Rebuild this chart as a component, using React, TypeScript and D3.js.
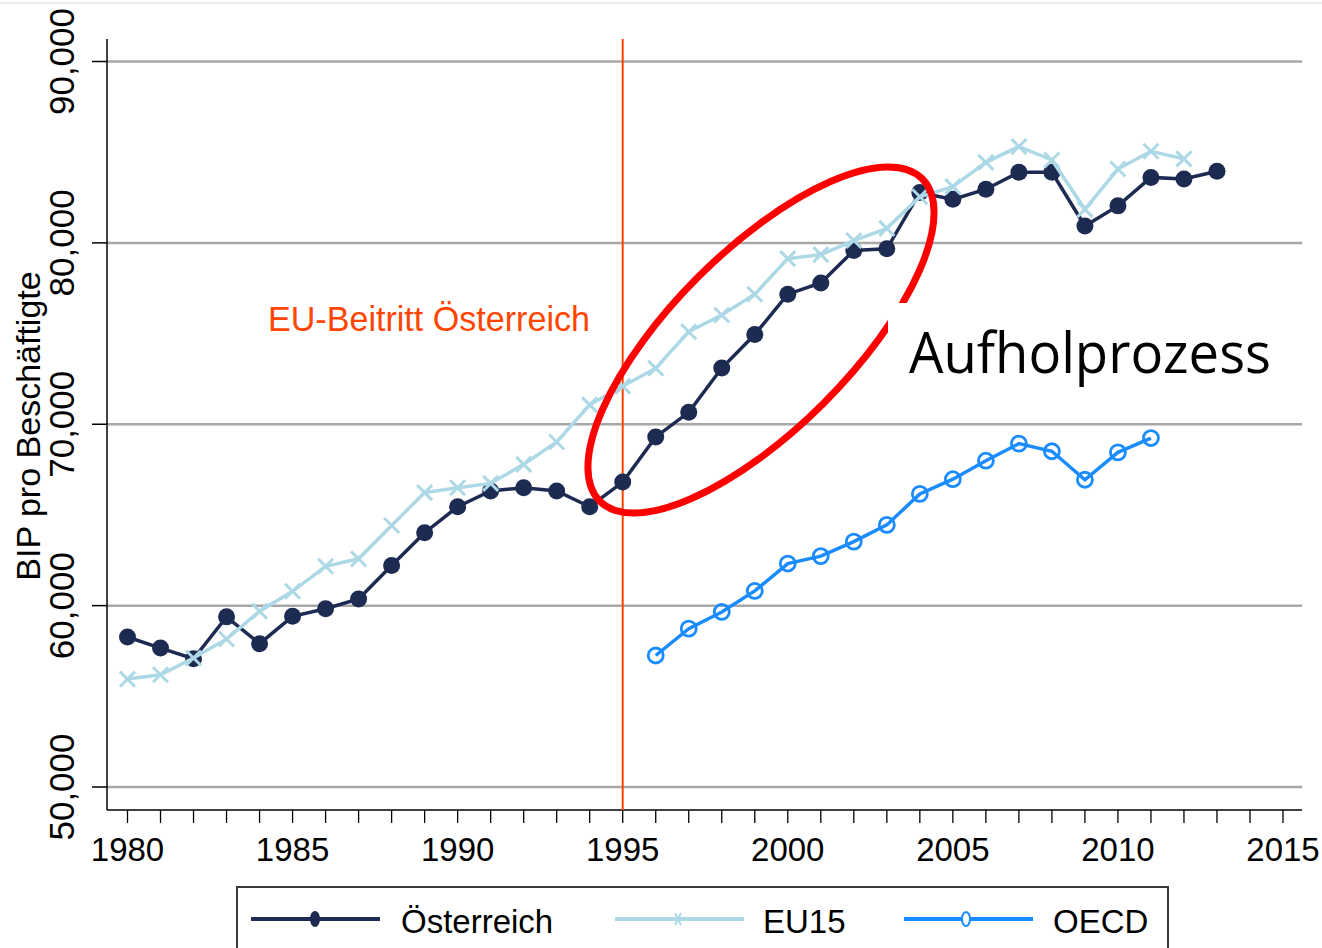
import React from "react";
import * as d3 from "d3";

// BIP pro Beschäftigte
const oesterreichYears = d3.range(1980, 2014);
const oesterreich = [
  58270, 57660, 57070, 59380, 57900, 59410, 59830, 60370, 62210, 64020,
  65450, 66320, 66500, 66320, 65450, 66810, 69300, 70660, 73100, 74950,
  77170, 77790, 79580, 79670, 82780, 82400, 82960, 83890, 83890, 80930,
  82040, 83610, 83520, 83950,
];
const eu15Years = d3.range(1980, 2013);
const eu15 = [
  55950, 56190, 57110, 58160, 59690, 60790, 62170, 62580, 64420, 66230,
  66500, 66740, 67790, 69020, 71070, 72100, 73090, 75100, 76020, 77170,
  79130, 79350, 80130, 80800, 82540, 83100, 84440, 85310, 84570, 81850,
  84070, 85050, 84630,
];
const oecdYears = d3.range(1996, 2012);
const oecd = [
  57250, 58730, 59650, 60810, 62320, 62730, 63530, 64450, 66160, 66970,
  67990, 68930, 68510, 66940, 68450, 69240,
];
const yTicks = [50000, 60000, 70000, 80000, 90000];
const xTicks = [1980, 1985, 1990, 1995, 2000, 2005, 2010, 2015];
const minorTicks = d3.range(1980, 2016);
const euEntry = 1995;

const navy = "#1d2b52";
const light = "#add8e6";
const oecdBlue = "#1a8cff";
const orange = "#ff4500";
const grid = "#a8a8a8";
const font = "'Liberation Sans', Arial, sans-serif";

const x = d3.scaleLinear().domain([1980, 2015]).range([127.5, 1283]);
const y = d3.scaleLinear().domain([50000, 90000]).range([787, 61.5]);

const toPts = (yrs: number[], vals: number[]) =>
  yrs.map((yr, i) => [x(yr), y(vals[i])] as [number, number]);

const line = d3.line<[number, number]>();

const Cross = ({ cx, cy, s = 7.5 }: { cx: number; cy: number; s?: number }) => (
  <path
    d={`M${cx - s},${cy - s}L${cx + s},${cy + s}M${cx - s},${cy + s}L${cx + s},${cy - s}`}
    stroke={light}
    strokeWidth={3}
  />
);

export default function App() {
  const pA = toPts(oesterreichYears, oesterreich);
  const pE = toPts(eu15Years, eu15);
  const pO = toPts(oecdYears, oecd);
  const left = 107;
  const right = 1302;
  const bottom = 810;
  const top = 39;

  return (
    <svg
      width={1322}
      height={948}
      style={{ position: "fixed", left: 0, top: 0, background: "#fff" }}
      fontFamily={font}
    >
      <rect width={1322} height={948} fill="#fff" />
      <line x1={0} x2={1322} y1={3} y2={3} stroke="#e6edf0" strokeWidth={2} />

      {/* gridlines */}
      {yTicks.map((t) => (
        <line key={t} x1={left} x2={right} y1={y(t)} y2={y(t)} stroke={grid} strokeWidth={2.5} />
      ))}

      {/* axes */}
      <line x1={left} x2={left} y1={top} y2={bottom} stroke="#000" strokeWidth={1.5} />
      <line x1={left} x2={right} y1={bottom} y2={bottom} stroke="#000" strokeWidth={1.5} />
      {yTicks.map((t) => (
        <g key={t}>
          <line x1={left - 15} x2={left} y1={y(t)} y2={y(t)} stroke="#000" strokeWidth={1.5} />
          <text
            transform={`translate(74,${y(t)}) rotate(-90)`}
            textAnchor="middle"
            fontSize={35}
            fill="#000"
          >
            {d3.format(",")(t)}
          </text>
        </g>
      ))}
      {minorTicks.map((t) => (
        <line key={t} x1={x(t)} x2={x(t)} y1={bottom} y2={bottom + 13} stroke="#000" strokeWidth={1.3} />
      ))}
      {xTicks.map((t) => (
        <text key={t} x={x(t)} y={861} textAnchor="middle" fontSize={33} fill="#000">
          {t}
        </text>
      ))}
      <text
        transform="translate(40,426) rotate(-90)"
        textAnchor="middle"
        fontSize={34}
        fill="#000"
      >
        BIP pro Beschäftigte
      </text>

      {/* EU entry */}
      <line x1={x(euEntry)} x2={x(euEntry)} y1={top} y2={bottom} stroke={orange} strokeWidth={2} />
      <text x={268} y={331} fontSize={35} fill={orange} textLength={322} lengthAdjust="spacingAndGlyphs">
        EU-Beitritt Österreich
      </text>

      {/* series */}
      <path d={line(pA) ?? ""} fill="none" stroke={navy} strokeWidth={3.5} />
      {pA.map(([cx, cy], i) => (
        <circle key={i} cx={cx} cy={cy} r={8.5} fill={navy} />
      ))}
      <path d={line(pE) ?? ""} fill="none" stroke={light} strokeWidth={3.5} />
      {pE.map(([cx, cy], i) => (
        <Cross key={i} cx={cx} cy={cy} />
      ))}
      <path d={line(pO) ?? ""} fill="none" stroke={oecdBlue} strokeWidth={3.5} />
      {pO.map(([cx, cy], i) => (
        <circle key={i} cx={cx} cy={cy} r={7.5} fill="none" stroke={oecdBlue} strokeWidth={2.8} />
      ))}

      {/* annotation */}
      <ellipse
        cx={761}
        cy={340}
        rx={228}
        ry={89}
        transform="rotate(-45 761 340)"
        fill="none"
        stroke="#ff0000"
        strokeWidth={7}
      />
      <rect x={888} y={303} width={414} height={100} fill="#fff" />
      <text
        x={909}
        y={373}
        fontFamily="'Open Sans', 'Noto Sans', sans-serif"
        fontSize={56}
        fill="#000"
        textLength={362}
        lengthAdjust="spacingAndGlyphs"
      >
        Aufholprozess
      </text>

      {/* legend */}
      <rect x={237} y={887} width={931} height={80} fill="#fff" stroke="#3a3a3a" strokeWidth={2} />
      <line x1={251} x2={380} y1={919} y2={919} stroke={navy} strokeWidth={4} />
      <ellipse cx={315} cy={919} rx={5} ry={8} fill={navy} />
      <text x={401} y={933} fontSize={33} fill="#000">Österreich</text>
      <line x1={615} x2={744} y1={919} y2={919} stroke={light} strokeWidth={4} />
      <path d="M675,913L681,925M675,925L681,913" stroke={light} strokeWidth={2} />
      <text x={763} y={933} fontSize={33} fill="#000">EU15</text>
      <line x1={904} x2={1033} y1={919} y2={919} stroke={oecdBlue} strokeWidth={4} />
      <ellipse cx={966} cy={919} rx={4} ry={7} fill="#fff" stroke={oecdBlue} strokeWidth={2} />
      <text x={1053} y={933} fontSize={33} fill="#000">OECD</text>
    </svg>
  );
}
